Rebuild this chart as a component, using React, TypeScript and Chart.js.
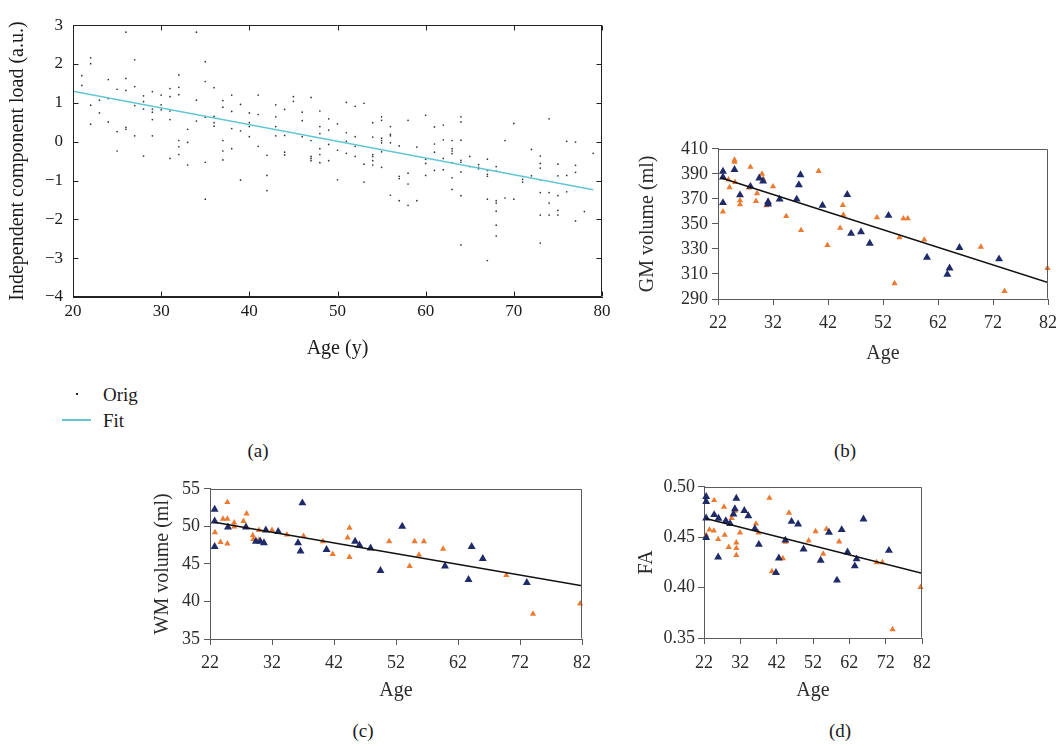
import React, { useEffect, useRef } from "react";
import { Chart, registerables } from "chart.js";

Chart.register(...registerables);

const SERIF = '"Liberation Serif", "Times New Roman", Times, serif';
const NAVY = "#1f2b68";
const ORANGE = "#ec7a30";
const CYAN = "#62c6d4";

// ---------------- Panel (a): independent component load vs age ----------------
const ORIG_AGES = [21, 22, 23, 24, 25, 26, 27, 28, 29, 30, 31, 32, 33, 34, 35, 36, 37, 38, 39, 40, 41, 42, 43, 44, 45, 46, 47, 48, 49, 50, 51, 52, 53, 54, 55, 56, 57, 58, 59, 60, 61, 62, 63, 64, 65, 66, 67, 68, 69, 70, 71, 72, 73, 74, 75, 76, 77, 78, 79];
const ORIG_LOADS = [
  [1.70, 1.45],
  [2.16, 2.01, 0.94, 0.45],
  [1.07, 0.74],
  [1.60, 1.11, 0.51],
  [1.35, 0.26, -0.24],
  [2.82, 1.63, 1.32, 0.37, 0.32],
  [2.11, 1.42, 0.93, 0.15],
  [1.18, 1.03, 0.84, -0.37],
  [1.29, 0.84, 0.76, 0.57, 0.15],
  [1.20, 0.95, 0.82],
  [1.37, 1.16, 0.79, 0.57, -0.43],
  [1.72, 1.40, 1.21, 0.03, -0.13, -0.33],
  [0.32, -0.02, -0.60],
  [2.82, 1.07, 0.53],
  [2.06, 1.55, 0.63, -0.53, -1.48],
  [1.39, 0.65, 0.49, 0.40],
  [1.06, 0.89, 0.03, -0.24, -0.47],
  [1.20, 0.78, 0.34, -0.18],
  [0.96, 0.28, -0.99],
  [0.74, 0.49, 0.39, 0.13],
  [1.20, 0.70, -0.12],
  [-0.35, -0.87, -1.26],
  [0.95, 0.64, 0.39, 0.15],
  [0.83, 0.16, -0.27, -0.34],
  [1.16, 1.04],
  [0.76, 0.54, 0.13],
  [1.14, 0.03, -0.38, -0.43, -0.49],
  [0.79, 0.39, 0.21, -0.18, -0.33, -0.54],
  [0.59, 0.30, -0.07, -0.49],
  [0.46, -0.22, -0.98],
  [1.01, 0.23, 0.01, -0.30],
  [0.91, 0.13, -0.12, -0.38],
  [0.99, -0.58, -1.04],
  [0.49, 0.12, -0.33, -0.38, -0.49, -0.60],
  [0.64, 0.55, 0.09, 0.03, -0.03, -0.26, -0.66],
  [0.39, 0.19, 0.15, -0.03, -1.38],
  [-0.11, -0.89, -0.95, -1.52],
  [0.55, -0.81, -1.09, -1.64],
  [-0.14, -1.52],
  [0.68, -0.45, -0.56, -0.87],
  [0.38, -0.06, -0.27, -0.74],
  [0.43, 0.05, -0.43, -0.72],
  [0.03, -0.18, -0.24, -0.31, -0.54, -0.93, -1.23],
  [0.64, 0.51, 0.04, -0.48, -0.53, -0.78, -1.39, -2.66],
  [-0.38, -0.64],
  [-0.59, -0.66, -0.70],
  [-0.45, -0.74, -0.84, -0.89, -1.48, -3.06],
  [-0.64, -0.76, -1.52, -1.58, -1.79, -2.15, -2.43],
  [0.03, -1.45],
  [0.47, -1.48],
  [-0.97, -1.04],
  [-0.20, -0.88],
  [-0.37, -0.56, -0.68, -0.98, -1.31, -1.89, -2.61],
  [0.59, -1.31, -1.58, -1.89],
  [-0.58, -0.88, -1.39, -1.77, -1.89],
  [0.01, -0.87, -1.29],
  [-0.01, -0.61, -0.79, -2.04],
  [-1.80],
  [-0.30],
];
const FIT_A_AGES = [20, 79];
const FIT_A_LOADS = [1.3, -1.24];
const A_X_TICKS = [20, 30, 40, 50, 60, 70, 80];
const A_Y_TICKS = [3, 2, 1, 0, -1, -2, -3, -4];

// ---------------- Panel (b): GM volume ----------------
const GM_NAVY_AGES = [22.9, 22.9, 22.9, 25.0, 26.0, 27.9, 29.5, 30.2, 31.1, 31.1, 33.2, 36.3, 36.7, 37.0, 41.0, 45.5, 46.2, 48.0, 49.6, 53.0, 60.0, 63.7, 64.1, 65.9, 73.1];
const GM_NAVY_VALUES = [392, 387.3, 366.9, 393.3, 373.1, 379.9, 386.5, 384.1, 367.6, 365.8, 369.7, 369.7, 381.2, 389.1, 364.8, 373.4, 342.3, 343.6, 334.4, 356.7, 323.2, 309.6, 314.6, 331.0, 321.9];
const GM_ORANGE_AGES = [22.9, 23.9, 24.1, 25.0, 25.0, 25.1, 26.0, 26.0, 27.9, 27.6, 28.9, 29.1, 30.0, 30.2, 30.8, 32.0, 34.4, 37.1, 40.3, 41.9, 44.2, 44.7, 44.8, 50.9, 54.1, 55.0, 55.7, 56.5, 59.5, 69.8, 74.1, 81.9];
const GM_ORANGE_VALUES = [359.8, 385.4, 379.2, 401.1, 399.5, 383.3, 368.7, 365.6, 395.4, 378.9, 368.2, 374.4, 389.9, 386.0, 364.8, 379.9, 356.1, 344.9, 392.2, 332.9, 346.7, 365.0, 357.2, 355.1, 302.5, 339.2, 354.3, 354.3, 337.3, 331.6, 296.3, 314.6];
const GM_FIT_AGES = [22.5, 82];
const GM_FIT_VALUES = [386.8, 303.1];
const GM_Y_TICKS = [290, 310, 330, 350, 370, 390, 410];

// ---------------- Panel (c): WM volume ----------------
const WM_NAVY_AGES = [22.75, 22.75, 22.75, 24.9, 27.8, 29.4, 30.1, 30.7, 31.0, 33.0, 36.2, 36.6, 36.9, 40.8, 45.4, 46.1, 47.9, 49.5, 53.0, 59.9, 63.7, 64.2, 66.0, 73.1];
const WM_NAVY_VALUES = [52.26, 50.7, 47.3, 49.9, 49.9, 48.0, 48.0, 47.8, 49.5, 49.3, 47.8, 46.7, 53.1, 46.9, 48.0, 47.5, 47.1, 44.1, 50.0, 44.7, 42.9, 47.3, 45.7, 42.5];
const WM_ORANGE_AGES = [22.8, 23.7, 24.1, 24.8, 24.8, 24.8, 25.9, 25.9, 27.4, 27.9, 28.9, 29.0, 29.9, 29.9, 32.0, 34.4, 37.1, 40.2, 41.8, 44.2, 44.5, 44.5, 50.9, 54.2, 55.0, 55.7, 56.5, 59.6, 69.8, 74.1, 81.7];
const WM_ORANGE_VALUES = [49.2, 47.9, 51.0, 53.2, 51.0, 47.7, 50.5, 49.96, 50.7, 51.7, 48.8, 48.3, 49.5, 48.2, 49.5, 48.9, 48.7, 48.0, 46.3, 48.5, 49.8, 45.9, 48.0, 44.7, 48.0, 46.2, 48.0, 47.0, 43.5, 38.35, 39.7];
const WM_FIT_AGES = [22.7, 82];
const WM_FIT_VALUES = [50.55, 42.1];
const WM_Y_TICKS = [35, 40, 45, 50, 55];

// ---------------- Panel (d): FA ----------------
const FA_NAVY_AGES = [22.6, 22.6, 22.6, 22.6, 24.8, 26.0, 25.9, 28.0, 29.2, 30.1, 30.5, 30.9, 33.1, 34.2, 36.0, 37.1, 41.8, 42.6, 44.4, 46.1, 47.9, 49.4, 54.1, 56.4, 58.6, 59.9, 61.5, 63.5, 64.0, 65.9, 72.9];
const FA_NAVY_VALUES = [0.4902, 0.4853, 0.4689, 0.4496, 0.4722, 0.4686, 0.4302, 0.4663, 0.4633, 0.4728, 0.4781, 0.4885, 0.4764, 0.4712, 0.4584, 0.4427, 0.4148, 0.4292, 0.4469, 0.4656, 0.463, 0.4381, 0.427, 0.4548, 0.4073, 0.4574, 0.4351, 0.4214, 0.4283, 0.4679, 0.4368];
const FA_ORANGE_AGES = [22.6, 23.5, 24.7, 24.8, 25.9, 27.5, 27.7, 28.8, 29.6, 30.5, 30.9, 30.9, 30.9, 31.9, 36.3, 37.0, 40.0, 40.7, 43.7, 44.4, 45.4, 50.8, 52.7, 54.8, 55.7, 59.2, 69.5, 71.1, 73.9, 81.6];
const FA_ORANGE_VALUES = [0.4519, 0.4574, 0.4564, 0.4866, 0.4479, 0.48, 0.4522, 0.4401, 0.4689, 0.476, 0.4446, 0.4391, 0.4322, 0.4545, 0.4633, 0.4545, 0.4889, 0.4161, 0.4289, 0.4453, 0.4741, 0.4466, 0.4558, 0.4335, 0.4581, 0.4456, 0.425, 0.425, 0.3585, 0.4004];
const FA_FIT_AGES = [22.5, 82];
const FA_FIT_VALUES = [0.4685, 0.4142];
const FA_Y_TICKS = [0.35, 0.4, 0.45, 0.5];

const AGE_TICKS = [22, 32, 42, 52, 62, 72, 82];

// ---------------- helpers ----------------
const pts = (xs: number[], ys: number[]) => xs.map((x, i) => ({ x, y: ys[i] }));

const framePlugin = {
  id: "frame",
  afterDraw(chart: any, _args: any, opts: any) {
    const { ctx, chartArea } = chart;
    const l = Math.round(chartArea.left) + 0.5;
    const r = Math.round(chartArea.right) - 0.5;
    const t = Math.round(chartArea.top) + 0.5;
    const b = Math.round(chartArea.bottom) - 0.5;
    ctx.save();
    ctx.strokeStyle = opts.color;
    ctx.lineWidth = 1;
    ctx.beginPath();
    ctx.moveTo(l, t);
    ctx.lineTo(r, t);
    ctx.lineTo(r, b);
    if (opts.full) {
      ctx.lineTo(l, b);
      ctx.closePath();
    }
    ctx.stroke();
    if (opts.inward) {
      const len = opts.inward;
      const xs = chart.scales.x;
      const ys = chart.scales.y;
      ctx.beginPath();
      xs.ticks.forEach((tk: any) => {
        const px = Math.round(xs.getPixelForValue(tk.value)) + 0.5;
        ctx.moveTo(px, b);
        ctx.lineTo(px, b - len);
        ctx.moveTo(px, t);
        ctx.lineTo(px, t + len);
      });
      ys.ticks.forEach((tk: any) => {
        const py = Math.round(ys.getPixelForValue(tk.value)) + 0.5;
        ctx.moveTo(l, py);
        ctx.lineTo(l + len, py);
        ctx.moveTo(r, py);
        ctx.lineTo(r - len, py);
      });
      ctx.stroke();
    }
    ctx.restore();
  },
};

type PanelSpec = {
  datasets: any[];
  xMin: number; xMax: number; yMin: number; yMax: number;
  xTicks: number[]; yTicks: number[];
  yFmt: (v: number) => string;
  xTitle: string; yTitle: string;
  tickSize: number; titleSize: number;
  axisColor: string; textColor: string;
  tickLen: number; inward: number;
  yAxisWidth: number; xAxisHeight: number;
  padTop: number; padRight: number;
  yTitlePad: number; xPad: number; yPad: number;
};

function makeConfig(p: PanelSpec): any {
  const tickFont = { family: SERIF, size: p.tickSize };
  const titleFont = { family: SERIF, size: p.titleSize };
  const outward = p.inward === 0;
  const grid = {
    display: outward,
    drawOnChartArea: false,
    drawTicks: outward,
    tickLength: p.tickLen,
    color: p.axisColor,
    lineWidth: 1,
  };
  return {
    type: "scatter",
    data: { datasets: p.datasets },
    plugins: [framePlugin],
    options: {
      animation: false,
      responsive: false,
      events: [],
      layout: { padding: { top: p.padTop, right: p.padRight, left: 0, bottom: 0 } },
      plugins: {
        legend: { display: false },
        tooltip: { enabled: false },
        frame: { color: p.axisColor, inward: p.inward, full: !outward },
      },
      scales: {
        x: {
          type: "linear",
          min: p.xMin,
          max: p.xMax,
          afterBuildTicks: (s: any) => { s.ticks = p.xTicks.map((v) => ({ value: v })); },
          afterFit: (s: any) => { s.height = p.xAxisHeight; },
          grid,
          border: { display: true, color: p.axisColor, width: 1 },
          ticks: {
            color: p.textColor, font: tickFont, padding: p.xPad,
            maxRotation: 0, autoSkip: false,
            callback: (v: number) => String(v),
          },
          title: { display: true, text: p.xTitle, color: p.textColor, font: titleFont, padding: { top: 0, bottom: 0 } },
        },
        y: {
          type: "linear",
          min: p.yMin,
          max: p.yMax,
          afterBuildTicks: (s: any) => { s.ticks = p.yTicks.map((v) => ({ value: v })); },
          afterFit: (s: any) => { s.width = p.yAxisWidth; },
          grid,
          border: { display: true, color: p.axisColor, width: 1 },
          ticks: {
            color: p.textColor, font: tickFont, padding: p.yPad, autoSkip: false,
            callback: (v: number) => p.yFmt(v),
          },
          title: { display: true, text: p.yTitle, color: p.textColor, font: titleFont, padding: { top: p.yTitlePad, bottom: 0 } },
        },
      },
    },
  };
}

function groupDatasets(navyX: number[], navyY: number[], orX: number[], orY: number[], fitX: number[], fitY: number[]) {
  return [
    {
      label: "Fit", data: pts(fitX, fitY), showLine: true, pointRadius: 0,
      borderColor: "#111", borderWidth: 1.5, fill: false,
    },
    {
      label: "Group 1", data: pts(navyX, navyY), pointStyle: "triangle", pointRadius: 4.6,
      backgroundColor: NAVY, borderWidth: 0, clip: false,
    },
    {
      label: "Group 2", data: pts(orX, orY), pointStyle: "triangle", pointRadius: 3.6,
      backgroundColor: ORANGE, borderWidth: 0, clip: false,
    },
  ];
}

const origPoints = ORIG_AGES.flatMap((age, i) => ORIG_LOADS[i].map((v) => ({ x: age, y: v })));
const minus = (v: number) => (v < 0 ? "\u2212" + Math.abs(v) : String(v));

const configA = () => makeConfig({
  datasets: [
    { label: "Fit", data: pts(FIT_A_AGES, FIT_A_LOADS), showLine: true, pointRadius: 0, borderColor: CYAN, borderWidth: 1.5 },
    { label: "Orig", data: origPoints, pointRadius: 0.85, pointStyle: "circle", backgroundColor: "#333", borderWidth: 0 },
  ],
  xMin: 20, xMax: 80, yMin: -4, yMax: 3,
  xTicks: A_X_TICKS, yTicks: A_Y_TICKS, yFmt: minus,
  xTitle: "Age (y)", yTitle: "Independent component load (a.u.)",
  tickSize: 17, titleSize: 20, axisColor: "#222", textColor: "#1a1a1a",
  tickLen: 0, inward: 5,
  yAxisWidth: 73, xAxisHeight: 64, padTop: 12, padRight: 20,
  yTitlePad: 6, xPad: 4, yPad: 10,
});

const configB = () => makeConfig({
  datasets: groupDatasets(GM_NAVY_AGES, GM_NAVY_VALUES, GM_ORANGE_AGES, GM_ORANGE_VALUES, GM_FIT_AGES, GM_FIT_VALUES),
  xMin: 22, xMax: 82, yMin: 290, yMax: 410,
  xTicks: AGE_TICKS, yTicks: GM_Y_TICKS, yFmt: (v) => String(v),
  xTitle: "Age", yTitle: "GM volume (ml)",
  tickSize: 18, titleSize: 20, axisColor: "#5a5a5a", textColor: "#2b2b2b",
  tickLen: 6, inward: 0,
  yAxisWidth: 88, xAxisHeight: 67, padTop: 12, padRight: 14,
  yTitlePad: 6, xPad: 7, yPad: 4,
});

const configC = () => makeConfig({
  datasets: groupDatasets(WM_NAVY_AGES, WM_NAVY_VALUES, WM_ORANGE_AGES, WM_ORANGE_VALUES, WM_FIT_AGES, WM_FIT_VALUES),
  xMin: 22, xMax: 82, yMin: 35, yMax: 55,
  xTicks: AGE_TICKS, yTicks: WM_Y_TICKS, yFmt: (v) => String(v),
  xTitle: "Age", yTitle: "WM volume (ml)",
  tickSize: 18, titleSize: 20, axisColor: "#5a5a5a", textColor: "#2b2b2b",
  tickLen: 6, inward: 0,
  yAxisWidth: 65, xAxisHeight: 64, padTop: 12, padRight: 20,
  yTitlePad: 6, xPad: 7, yPad: 4,
});

const configD = () => makeConfig({
  datasets: groupDatasets(FA_NAVY_AGES, FA_NAVY_VALUES, FA_ORANGE_AGES, FA_ORANGE_VALUES, FA_FIT_AGES, FA_FIT_VALUES),
  xMin: 22, xMax: 82, yMin: 0.35, yMax: 0.5,
  xTicks: AGE_TICKS, yTicks: FA_Y_TICKS, yFmt: (v) => v.toFixed(2),
  xTitle: "Age", yTitle: "FA",
  tickSize: 18, titleSize: 20, axisColor: "#5a5a5a", textColor: "#2b2b2b",
  tickLen: 6, inward: 0,
  yAxisWidth: 74, xAxisHeight: 65, padTop: 12, padRight: 20,
  yTitlePad: 5, xPad: 8, yPad: 3,
});

function ChartCanvas(props: { make: () => any; left: number; top: number; width: number; height: number }) {
  const ref = useRef<HTMLCanvasElement>(null);
  useEffect(() => {
    const chart = new Chart(ref.current as HTMLCanvasElement, props.make());
    return () => chart.destroy();
  }, []);
  return (
    <canvas
      ref={ref}
      width={props.width}
      height={props.height}
      style={{ position: "absolute", left: props.left, top: props.top, width: props.width, height: props.height, display: "block" }}
    />
  );
}

function Label(props: { x: number; y: number; text: string; size?: number; align?: "left" | "center" }) {
  const size = props.size ?? 19;
  return (
    <div
      style={{
        position: "absolute",
        left: props.x,
        top: props.y,
        transform: props.align === "left" ? "translate(0,-50%)" : "translate(-50%,-50%)",
        fontFamily: SERIF,
        fontSize: size,
        lineHeight: 1,
        color: "#1a1a1a",
        whiteSpace: "nowrap",
      }}
    >
      {props.text}
    </div>
  );
}

export default function App() {
  return (
    <div style={{ position: "absolute", left: 0, top: 0, width: 1064, height: 746, background: "#fff", overflow: "hidden" }}>
      <ChartCanvas make={configA} left={0} top={5} width={622} height={356} />
      <ChartCanvas make={configB} left={630} top={134} width={434} height={232} />
      <ChartCanvas make={configC} left={145} top={474} width={457} height={229} />
      <ChartCanvas make={configD} left={630} top={473} width={312} height={230} />

      {/* legend of panel (a) */}
      <div style={{ position: "absolute", left: 76, top: 393, width: 2, height: 2, background: "#222" }} />
      <Label x={103} y={394} text="Orig" align="left" />
      <div style={{ position: "absolute", left: 62, top: 419, width: 29, height: 1.5, background: CYAN }} />
      <Label x={103} y={420} text="Fit" align="left" />

      <Label x={258} y={450} text="(a)" />
      <Label x={845} y={450} text="(b)" />
      <Label x={363} y={730} text="(c)" />
      <Label x={840} y={730} text="(d)" />
    </div>
  );
}
